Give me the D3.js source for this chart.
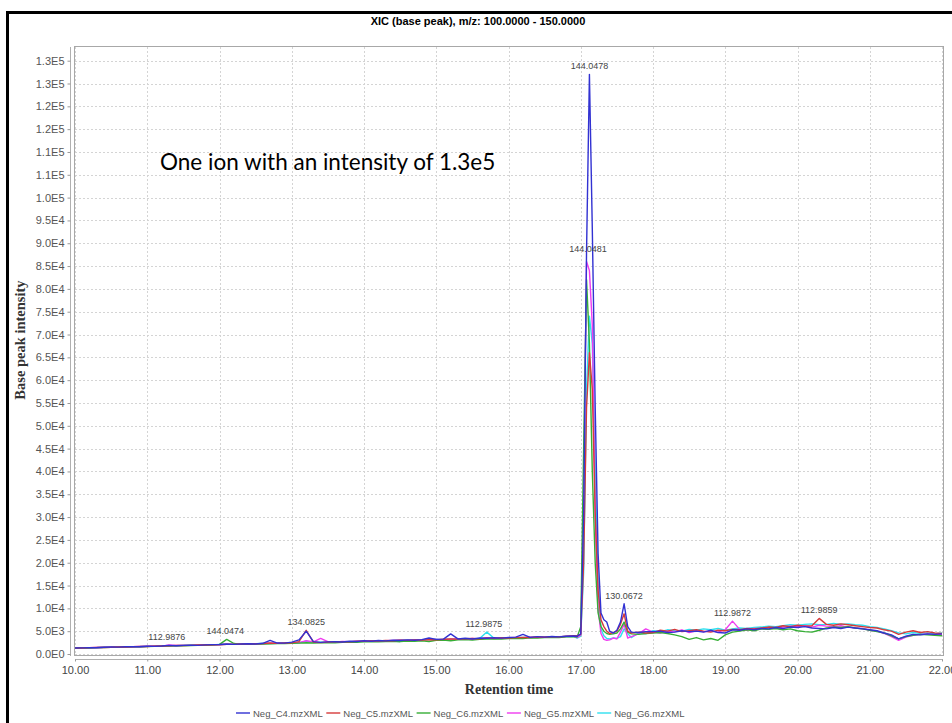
<!DOCTYPE html>
<html>
<head>
<meta charset="utf-8">
<script src="https://cdn.jsdelivr.net/npm/d3@7"></script>
<style>
  body { margin: 0; background: #fff; }
</style>
</head>
<body>
<svg id="chart" width="952" height="723"></svg>
<script>
// retention time (min) of each sample
const times = [
  10.0,10.1,10.2,10.3,10.4,10.5,10.6,10.7,10.8,10.9,
  11.0,11.1,11.2,11.3,11.4,11.5,11.6,11.7,11.8,11.9,
  12.0,12.1,12.2,12.3,12.4,12.5,12.6,12.7,12.8,12.9,
  13.0,13.1,13.2,13.3,13.4,13.5,13.6,13.7,13.8,13.9,
  14.0,14.1,14.2,14.3,14.4,14.5,14.6,14.7,14.8,14.9,
  15.0,15.1,15.2,15.3,15.4,15.5,15.6,15.7,15.8,15.9,
  16.0,16.1,16.2,16.3,16.4,16.5,16.6,16.7,16.8,16.9,
  16.95,17.0,17.04,17.08,17.12,17.16,17.2,17.24,17.28,17.32,
  17.36,17.4,17.45,17.5,17.55,17.6,17.65,17.7,17.8,17.9,
  18.0,18.1,18.2,18.3,18.4,18.5,18.6,18.7,18.8,18.9,
  19.0,19.1,19.2,19.3,19.4,19.5,19.6,19.7,19.8,19.9,
  20.0,20.1,20.2,20.3,20.4,20.5,20.6,20.7,20.8,20.9,
  21.0,21.1,21.2,21.3,21.4,21.5,21.6,21.7,21.8,21.9,
  22.0
];

const negC4 = [
  1300,1350,1400,1380,1470,1520,1500,1580,1620,1600,
  1700,1680,1760,1900,1820,1880,1920,1900,1990,2050,
  2080,2200,2100,2180,2230,2200,2350,3000,2400,2380,
  2600,3100,5000,2700,2550,2650,2700,2620,2800,2750,
  2900,2800,2950,2880,3000,2950,3100,3000,3150,3500,
  3200,3250,4400,3300,3450,3300,3500,3450,3550,3480,
  3600,3700,4300,3650,3800,3700,3850,3760,3900,3950,
  3900,4400,30000,88000,127000,93000,54000,22000,9000,7500,
  7000,5000,4600,5200,7000,11000,6000,4800,4700,4900,
  4900,5000,4700,4800,5100,4900,5000,4800,5200,4700,
  4600,5300,5200,5500,5300,5600,5500,5800,5600,5900,
  5800,6000,5700,5600,5500,5800,5600,5900,5700,5500,
  5300,5100,4600,4200,3300,3900,4300,4200,4400,4300,
  4400
];

const negC5 = [
  1280,1320,1390,1430,1440,1480,1560,1540,1590,1660,
  1650,1720,1740,1780,1850,1850,1890,1960,1960,2010,
  2040,2150,2120,2200,2180,2260,2300,2400,2330,2420,
  2450,2700,5200,2600,2500,2620,2680,2700,2650,2800,
  2780,2900,2850,2950,2900,3050,2980,3080,3050,3150,
  3100,3220,3300,3250,3350,3400,3320,3500,3420,3550,
  3500,3580,3650,3600,3720,3680,3800,3750,3880,4000,
  4000,4300,20000,54000,66000,58000,31000,14000,7500,6000,
  5000,4500,4700,5000,6500,8800,5000,4600,4800,4600,
  4700,5200,5000,5400,4900,5100,5300,5000,4800,5200,
  5100,5400,5300,5600,5500,5700,5900,5800,6200,6000,
  6300,6100,6200,7800,6500,6300,6600,6400,6200,6000,
  5800,5700,5300,5000,4300,4800,5100,4700,4900,4600,
  4500
];

const negC6 = [
  1250,1300,1330,1400,1420,1450,1500,1520,1560,1580,
  1620,1680,1700,1720,1780,1800,1850,1880,1920,1950,
  2100,3200,2300,2100,2150,2180,2200,2250,2280,2300,
  2350,2380,2450,2420,2450,2500,2480,2550,2600,2580,
  2650,2700,2680,2750,2800,2700,2850,2800,2900,2750,
  3000,3050,2900,3100,3150,3050,3200,3250,3300,3250,
  3400,3450,3400,3550,3500,3600,3650,3600,3750,3800,
  3700,6000,45000,82000,68000,40000,20000,9000,6000,5000,
  4500,4300,4400,4600,5500,7000,4800,4400,4300,4500,
  4600,4700,4500,4200,3800,3200,3600,3100,3400,3000,
  4200,4800,5000,5300,5100,5500,5400,5600,5300,5500,
  5100,4900,4800,5200,5700,5900,5800,6000,5700,5500,
  5200,4900,4600,4000,3300,3800,4100,4300,4200,4100,
  4000
];

const negG5 = [
  1320,1360,1370,1440,1480,1490,1540,1590,1580,1650,
  1700,1750,1720,2000,1850,1900,1880,1950,2000,2030,
  2060,2120,2150,2140,2220,2250,2270,2350,2380,2360,
  2450,2500,2900,2650,3400,2700,2600,2750,2720,2780,
  2820,2850,2900,2920,2980,3000,2950,3100,3050,3150,
  3200,3150,3250,3300,3250,3400,3300,3550,3400,3500,
  3550,3600,3550,3700,3650,3750,3700,3800,3850,3900,
  3600,4200,35000,86000,84000,72000,30000,10000,4500,3200,
  3000,3100,3500,3300,4800,6500,3500,3800,4400,5500,
  4800,4600,5000,4900,5300,4700,5100,4900,5000,4800,
  5300,7200,5400,5200,5600,5500,5800,5700,5900,6100,
  6000,6200,5900,6300,6100,6000,6200,5900,5700,5600,
  5200,5000,4500,3800,3000,3700,4100,4300,4400,4200,
  4300
];

const negG6 = [
  1310,1350,1400,1410,1460,1510,1520,1570,1610,1630,
  1690,1700,1770,1810,1820,1880,1910,1930,2000,2010,
  2070,2110,2140,2190,2210,2250,2290,2300,2360,2400,
  2430,2470,2800,2550,2580,2610,2650,2690,2720,2760,
  2800,2830,2870,2910,2940,3000,3020,3050,3100,3300,
  3170,3200,3250,3280,3320,3360,3400,4800,3460,3500,
  3540,3580,3620,3650,3690,3730,3760,3800,3840,3880,
  3500,3900,18000,58000,74000,68000,40000,15000,5500,4000,
  3400,3300,3500,3400,3800,5500,4500,3600,4600,4400,
  5100,4900,5300,5100,5000,5400,5200,5500,5300,5600,
  5200,5500,5700,5600,5800,5900,6100,6000,6200,6400,
  6300,6500,6600,6400,6500,6700,6500,6600,6400,6300,
  6000,5800,5500,5100,4600,4400,4700,4500,4600,4400,
  4600
];

const seriesNames = ["Neg_C4.mzXML", "Neg_C5.mzXML", "Neg_C6.mzXML", "Neg_G5.mzXML", "Neg_G6.mzXML"];
const seriesValues = [negC4, negC5, negC6, negG5, negG6];

// peak labels (m/z of base peak)
const peakTimes  = [11.27, 12.08, 13.2, 15.66, 17.12, 17.1, 17.6, 19.1, 20.3];
const peakValues = [1900, 3200, 5200, 4800, 127000, 87000, 11000, 7200, 7800];
const peakLabels = ["112.9876", "144.0474", "134.0825", "112.9875", "144.0478", "144.0481", "130.0672", "112.9872", "112.9859"];

const xTicks = [10, 11, 12, 13, 14, 15, 16, 17, 18, 19, 20, 21, 22];
const xTickLabels = ["10.00", "11.00", "12.00", "13.00", "14.00", "15.00", "16.00", "17.00", "18.00", "19.00", "20.00", "21.00", "22.00"];
const yTicks = [0, 5000, 10000, 15000, 20000, 25000, 30000, 35000, 40000, 45000, 50000, 55000, 60000, 65000,
  70000, 75000, 80000, 85000, 90000, 95000, 100000, 105000, 110000, 115000, 120000, 125000, 130000];
const yTickLabels = ["0.0E0", "5.0E3", "1.0E4", "1.5E4", "2.0E4", "2.5E4", "3.0E4", "3.5E4", "4.0E4", "4.5E4",
  "5.0E4", "5.5E4", "6.0E4", "6.5E4", "7.0E4", "7.5E4", "8.0E4", "8.5E4", "9.0E4", "9.5E4",
  "1.0E5", "1.1E5", "1.1E5", "1.2E5", "1.2E5", "1.3E5", "1.3E5"];

// styling
const colors = ["#3232d2", "#d63a3a", "#36ae36", "#f03cf0", "#2fe0ef"];
const plot = { left: 75, right: 943, top: 47, bottom: 656 };

const svg = d3.select("#chart");

// slide frame
svg.append("rect")
  .attr("x", 7.5).attr("y", 12.5)
  .attr("width", 980).attr("height", 740)
  .attr("fill", "none").attr("stroke", "#000").attr("stroke-width", 3);

svg.append("text")
  .attr("x", 478).attr("y", 25)
  .attr("text-anchor", "middle")
  .style("font-family", "'Liberation Sans Narrow', 'Liberation Sans', Arial, sans-serif")
  .style("font-size", "11px").style("font-weight", "bold")
  .text("XIC (base peak), m/z: 100.0000 - 150.0000");

const x = d3.scaleLinear().domain([10, 22]).range([plot.left, plot.right - 1]);
const y = d3.scaleLinear().domain([0, 133000]).range([654, plot.top]);

// grid
const grid = svg.append("g");
grid.selectAll(".vg").data(xTicks).enter().append("line")
  .attr("x1", d => Math.round(x(d)) + 0.5).attr("x2", d => Math.round(x(d)) + 0.5)
  .attr("y1", plot.top).attr("y2", plot.bottom)
  .attr("stroke", "#d4d4d4").attr("stroke-dasharray", "2,2");
grid.selectAll(".hg").data(yTicks).enter().append("line")
  .attr("x1", plot.left).attr("x2", plot.right)
  .attr("y1", d => Math.round(y(d)) + 0.5).attr("y2", d => Math.round(y(d)) + 0.5)
  .attr("stroke", "#d4d4d4").attr("stroke-dasharray", "2,2");

svg.append("rect")
  .attr("x", plot.left - 0.5).attr("y", plot.top - 0.5)
  .attr("width", plot.right - plot.left + 1).attr("height", plot.bottom - plot.top)
  .attr("fill", "none").attr("stroke", "#a8a8a8");

// axes
const yaxis = d3.axisLeft(y).tickValues(yTicks).tickFormat((d, i) => yTickLabels[i]).tickSize(3).tickSizeOuter(0);
const yg = svg.append("g").attr("transform", "translate(70.5,0)").call(yaxis);
yg.select(".domain").attr("stroke", "#b0b0b0").attr("d", `M0,${plot.top}V${plot.bottom}`);
yg.selectAll(".tick line").attr("stroke", "#999");
yg.selectAll("text")
  .attr("x", -6)
  .style("font-family", "'Liberation Sans', Arial, sans-serif")
  .style("font-size", "11px").style("fill", "#555");

const xaxis = d3.axisBottom(x).tickValues(xTicks).tickFormat((d, i) => xTickLabels[i]).tickSize(2).tickSizeOuter(0);
const xg = svg.append("g").attr("transform", "translate(0,659.5)").call(xaxis);
xg.select(".domain").attr("stroke", "#b0b0b0").attr("d", `M${plot.left},0H${plot.right}`);
xg.selectAll(".tick line").attr("stroke", "#999");
xg.selectAll("text")
  .attr("y", 7)
  .style("font-family", "'Liberation Sans', Arial, sans-serif")
  .style("font-size", "11px").style("fill", "#444");

svg.append("text")
  .attr("x", (plot.left + plot.right) / 2).attr("y", 694)
  .attr("text-anchor", "middle")
  .style("font-family", "'Liberation Serif', 'Times New Roman', serif")
  .style("font-size", "14px").style("font-weight", "bold").style("fill", "#333")
  .text("Retention time");

svg.append("text")
  .attr("transform", "translate(25,340) rotate(-90)")
  .attr("text-anchor", "middle")
  .style("font-family", "'Liberation Serif', 'Times New Roman', serif")
  .style("font-size", "14.5px").style("font-weight", "bold").style("fill", "#333")
  .text("Base peak intensity");

// series lines (first series drawn last, on top)
svg.append("clipPath").attr("id", "clip").append("rect")
  .attr("x", plot.left).attr("y", plot.top)
  .attr("width", plot.right - plot.left).attr("height", plot.bottom - plot.top);

const line = d3.line()
  .x((d, i) => x(times[i]))
  .y(d => y(d));

const lines = svg.append("g").attr("clip-path", "url(#clip)");
d3.range(seriesValues.length).reverse().forEach(k => {
  lines.append("path")
    .datum(seriesValues[k])
    .attr("fill", "none")
    .attr("stroke", colors[k])
    .attr("stroke-width", 1.4)
    .attr("stroke-linejoin", "round")
    .attr("d", line);
});

// peak annotations
svg.append("g").selectAll("text").data(peakLabels).enter().append("text")
  .attr("x", (d, i) => x(peakTimes[i]))
  .attr("y", (d, i) => y(peakValues[i]) - 5)
  .attr("text-anchor", "middle")
  .style("font-family", "'Liberation Sans', Arial, sans-serif")
  .style("font-size", "9px").style("fill", "#444")
  .text(d => d);

svg.append("text")
  .attr("x", 160).attr("y", 170)
  .style("font-family", "Lato, 'Open Sans', sans-serif")
  .style("font-size", "22.5px").style("fill", "#000")
  .text("One ion with an intensity of 1.3e5");

// legend
const legend = svg.append("g").attr("transform", "translate(236,713)");
const item = legend.selectAll("g").data(seriesNames).enter().append("g")
  .attr("transform", (d, i) => `translate(${i * 90.3},0)`);
item.append("line")
  .attr("x1", 0).attr("x2", 14).attr("y1", 0).attr("y2", 0)
  .attr("stroke", (d, i) => colors[i]).attr("stroke-width", 1.4);
item.append("text")
  .attr("x", 17).attr("y", 3.5)
  .style("font-family", "'Liberation Sans', Arial, sans-serif")
  .style("font-size", "9.5px").style("fill", "#555")
  .text(d => d);
</script>
</body>
</html>
